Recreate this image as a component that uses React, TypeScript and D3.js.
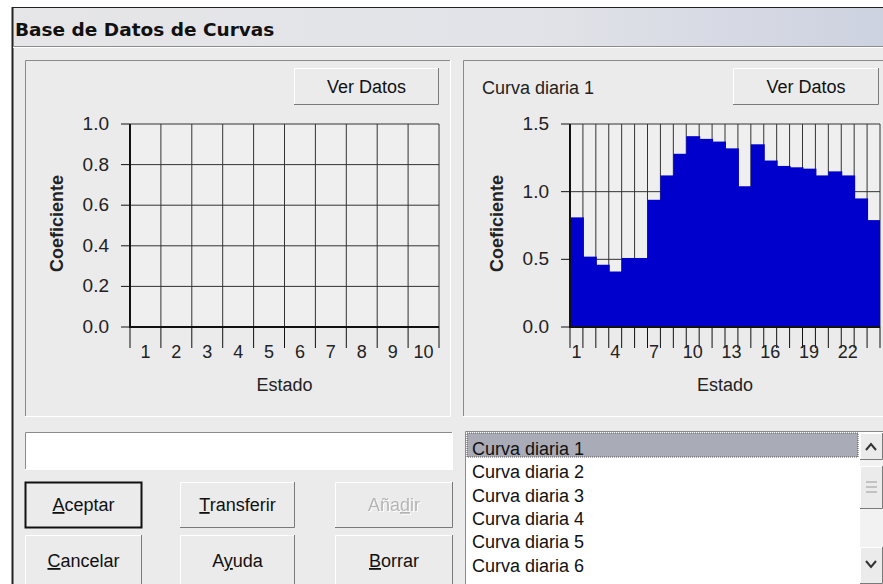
import React from "react";
import * as d3 from "d3";

// chart data
const leftStates = [1, 2, 3, 4, 5, 6, 7, 8, 9, 10];
const leftTicks = [0, 0.2, 0.4, 0.6, 0.8, 1.0];

const rightStates = [
  1, 2, 3, 4, 5, 6, 7, 8, 9, 10, 11, 12, 13, 14, 15, 16, 17, 18, 19, 20, 21,
  22, 23, 24,
];
const rightValues = [
  0.81, 0.52, 0.46, 0.41, 0.51, 0.51, 0.94, 1.12, 1.28, 1.41, 1.39, 1.37, 1.32,
  1.04, 1.35, 1.23, 1.19, 1.18, 1.17, 1.12, 1.15, 1.12, 0.95, 0.79,
];
const rightTicks = [0, 0.5, 1.0, 1.5];
const rightLabeled = [1, 4, 7, 10, 13, 16, 19, 22];

const curveNames = [
  "Curva diaria 1",
  "Curva diaria 2",
  "Curva diaria 3",
  "Curva diaria 4",
  "Curva diaria 5",
  "Curva diaria 6",
];

const UI = "'Liberation Sans', Arial, sans-serif";
const FACE = "#ebebeb";

// Windows style 3D box
function Bevel({ x, y, w, h, inset = false, fill = FACE }) {
  const light = inset ? "#8a8a8a" : "#ffffff";
  const dark = inset ? "#ffffff" : "#7a7a7a";
  return (
    <g>
      <rect x={x} y={y} width={w} height={h} fill={fill} />
      <path d={`M${x + 0.5},${y + h} V${y + 0.5} H${x + w}`} fill="none" stroke={light} />
      <path d={`M${x},${y + h - 0.5} H${x + w - 0.5} V${y}`} fill="none" stroke={dark} />
    </g>
  );
}

function Button({ x, y, w, h, label, u = -1, isDefault = false, disabled = false }) {
  const pre = u >= 0 ? label.slice(0, u) : label;
  const ch = u >= 0 ? label[u] : "";
  const post = u >= 0 ? label.slice(u + 1) : "";
  const color = disabled ? "#b4b4b4" : "#111";
  return (
    <g>
      <Bevel x={x} y={y} w={w} h={h} />
      {isDefault && (
        <rect x={x + 0.5} y={y + 0.5} width={w - 1} height={h - 1} fill="none" stroke="#111" strokeWidth={2} />
      )}
      <text
        x={x + w / 2}
        y={y + h / 2 + 6}
        textAnchor="middle"
        fontFamily={UI}
        fontSize={18}
        fill={color}
        filter={disabled ? "url(#etched)" : undefined}
      >
        {pre}
        <tspan textDecoration="underline">{ch}</tspan>
        {post}
      </text>
    </g>
  );
}

function Chart({ states, values, yMax, ticks, labeled, x0, x1, yTop, yBottom, fmt }) {
  const x = d3.scaleBand<number>().domain(states).range([x0, x1]);
  const y = d3.scaleLinear().domain([0, yMax]).range([yBottom, yTop]);
  const bw = x.bandwidth();
  const bounds = states.map((s) => x(s)).concat([x1]);

  return (
    <g>
      <rect x={x0} y={yTop} width={x1 - x0} height={yBottom - yTop} fill="#efefef" />
      {/* grid */}
      {ticks.map((t) => (
        <line key={"h" + t} x1={x0} x2={x1} y1={y(t)} y2={y(t)} stroke="#333" />
      ))}
      {bounds.map((b, i) => (
        <line key={"v" + i} x1={b} x2={b} y1={yTop} y2={yBottom} stroke="#333" />
      ))}
      {/* bars */}
      {values &&
        values.map((v, i) => (
          <rect
            key={i}
            x={x(states[i])}
            y={y(v)}
            width={i === values.length - 1 ? bw : bw + 1}
            height={yBottom - y(v)}
            fill="#0000cc"
          />
        ))}
      {/* axes */}
      <line x1={x0} x2={x0} y1={yTop} y2={yBottom + 1} stroke="#111" strokeWidth={2} />
      <line x1={x0} x2={x1} y1={yBottom} y2={yBottom} stroke="#111" strokeWidth={2} />
      {ticks.map((t) => (
        <g key={"yt" + t}>
          <line x1={x0 - 9} x2={x0} y1={y(t)} y2={y(t)} stroke="#111" />
          <text x={x0 - 21} y={y(t) + 6} textAnchor="end" fontFamily={UI} fontSize={19} fill="#222">
            {fmt(t)}
          </text>
        </g>
      ))}
      {bounds.map((b, i) => (
        <line key={"xt" + i} x1={b} x2={b} y1={yBottom} y2={yBottom + 21} stroke="#111" />
      ))}
      {states
        .filter((s) => labeled.includes(s))
        .map((s) => (
          <text key={"xl" + s} x={x(s) + bw / 2} y={yBottom + 31} textAnchor="middle" fontFamily={UI} fontSize={18} fill="#222">
            {s}
          </text>
        ))}
      <text x={(x0 + x1) / 2} y={yBottom + 64} textAnchor="middle" fontFamily={UI} fontSize={18} fill="#222">
        Estado
      </text>
      <text
        transform={`translate(${x0 - 67},${(yTop + yBottom) / 2 - 2}) rotate(-90)`}
        textAnchor="middle"
        fontFamily={UI}
        fontWeight="bold"
        fontSize={18}
        fill="#222"
      >
        Coeficiente
      </text>
    </g>
  );
}

export default function App() {
  const W = 883;
  const H = 584;
  const fmt = d3.format(".1f");
  const itemY = d3.scaleLinear().domain([0, 1]).range([448, 471.3]);

  return (
    <svg width={W} height={H} style={{ position: "absolute", left: 0, top: 0 }}>
      <defs>
        <linearGradient id="title" x1="0" x2="1" y1="0" y2="0">
          <stop offset="0" stopColor="#e6e6e8" />
          <stop offset="0.6" stopColor="#e2e3e8" />
          <stop offset="1" stopColor="#cdd2e0" />
        </linearGradient>
        <filter id="etched" x="-5%" y="-20%" width="110%" height="140%">
          <feFlood floodColor="#ffffff" result="white" />
          <feComposite in="white" in2="SourceAlpha" operator="in" result="w" />
          <feOffset in="w" dx="1" dy="1" result="shadow" />
          <feMerge>
            <feMergeNode in="shadow" />
            <feMergeNode in="SourceGraphic" />
          </feMerge>
        </filter>
      </defs>
      <rect width={W} height={H} fill="#fff" />
      {/* dialog */}
      <rect x={12} y={7} width={W - 12} height={H - 7} fill={FACE} />
      <rect x={13} y={8} width={W - 13} height={38} fill="url(#title)" />
      <line x1={12} x2={W} y1={7.5} y2={7.5} stroke="#222" />
      <line x1={12.5} x2={12.5} y1={7} y2={H} stroke="#222" strokeWidth={2} />
      <line x1={13} x2={W} y1={46.5} y2={46.5} stroke="#8c8c8c" />
      <line x1={13} x2={W} y1={47.5} y2={47.5} stroke="#fff" />
      <text x={15} y={36} fontFamily="'DejaVu Sans', Verdana, sans-serif" fontWeight="bold" fontSize={18.5} fill="#111">
        Base de Datos de Curvas
      </text>

      {/* panels */}
      <Bevel x={25} y={60} w={426} h={357} inset />
      <Bevel x={463} y={60} w={440} h={357} inset />

      <Button x={294} y={68} w={145} h={37} label="Ver Datos" />
      <Button x={733} y={68} w={146} h={37} label="Ver Datos" />
      <text x={482} y={94} fontFamily={UI} fontSize={18} fill="#222">
        Curva diaria 1
      </text>

      <Chart
        states={leftStates}
        values={null}
        yMax={1}
        ticks={leftTicks}
        labeled={leftStates}
        x0={130}
        x1={439}
        yTop={124}
        yBottom={327}
        fmt={fmt}
      />
      <Chart
        states={rightStates}
        values={rightValues}
        yMax={1.5}
        ticks={rightTicks}
        labeled={rightLabeled}
        x0={570}
        x1={880}
        yTop={124}
        yBottom={327}
        fmt={fmt}
      />

      {/* text box */}
      <Bevel x={25} y={432} w={428} h={38} inset fill="#fff" />

      {/* buttons */}
      <Button x={25} y={482} w={117} h={46} label="Aceptar" u={0} isDefault />
      <Button x={180} y={482} w={115} h={46} label="Transferir" u={0} />
      <Button x={335} y={482} w={118} h={46} label="Añadir" u={3} disabled />
      <Button x={25} y={535} w={117} h={52} label="Cancelar" u={0} />
      <Button x={180} y={535} w={115} h={52} label="Ayuda" u={1} />
      <Button x={335} y={535} w={118} h={52} label="Borrar" u={0} />

      {/* list box */}
      <Bevel x={465} y={431} w={430} h={160} inset fill="#fff" />
      <rect x={467} y={433} width={391} height={24} fill="#a9abb6" stroke="#555" strokeDasharray="1,1" />
      {curveNames.map((n, i) => (
        <text key={n} x={472} y={itemY(i) + 7} fontFamily={UI} fontSize={18} fill="#111">
          {n}
        </text>
      ))}
      {/* scrollbar */}
      <rect x={860} y={433} width={23} height={151} fill="#f2f2f2" />
      <Bevel x={860} y={433} w={23} h={27} />
      <path d="M866,450 L871,444 L876,450" fill="none" stroke="#333" strokeWidth={2} />
      <Bevel x={860} y={466} w={23} h={43} />
      {[482, 487, 492].map((yy) => (
        <line key={yy} x1={866} x2={877} y1={yy} y2={yy} stroke="#999" />
      ))}
      <Bevel x={860} y={547} w={23} h={37} />
      <path d="M866,561 L871,567 L876,561" fill="none" stroke="#333" strokeWidth={2} />
    </svg>
  );
}
